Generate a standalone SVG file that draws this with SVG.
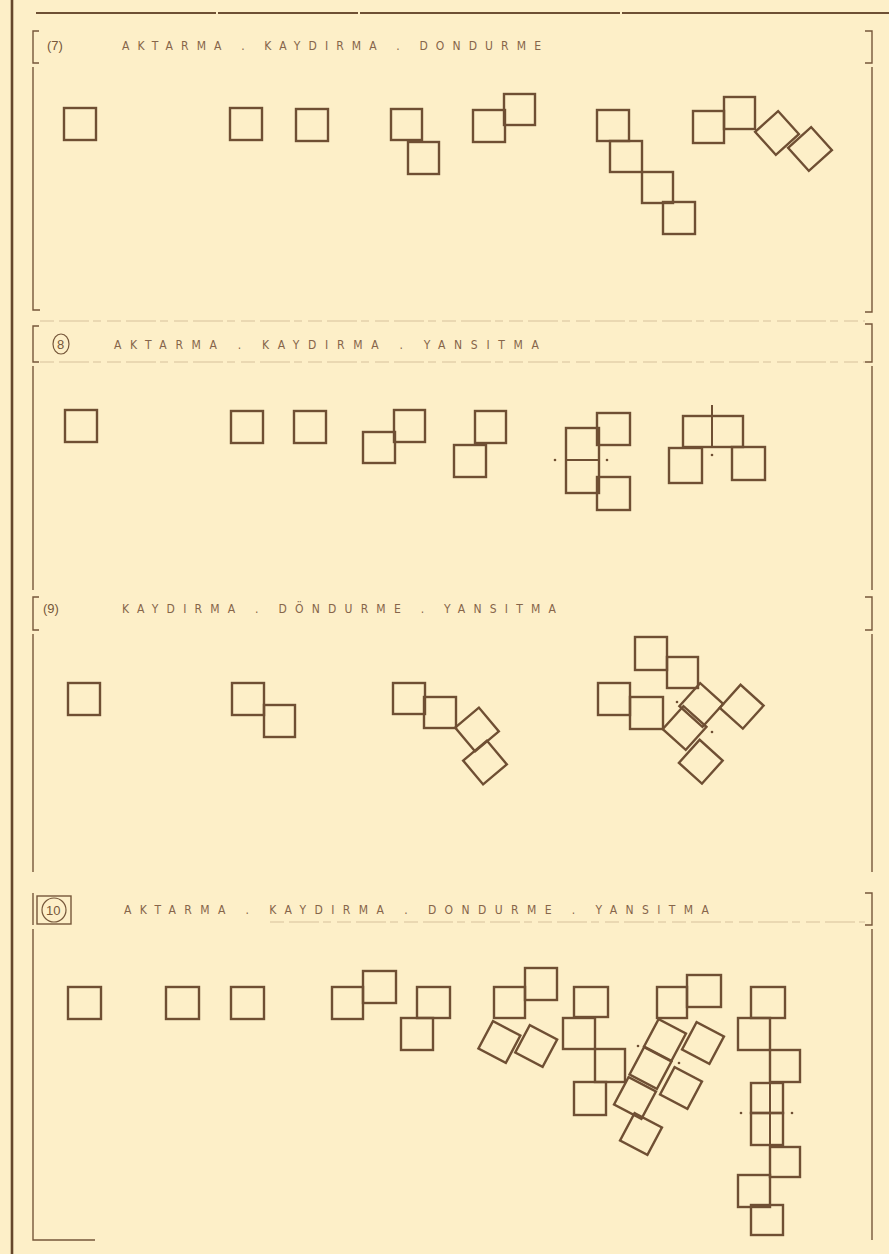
<svg xmlns="http://www.w3.org/2000/svg" width="889" height="1254" viewBox="0 0 889 1254">
<style>
.bg{fill:#fdefc8}
.sq{fill:none;stroke:#6f4f33;stroke-width:2.4;stroke-linejoin:miter}
.ax{fill:none;stroke:#6f4f33;stroke-width:2}
.dot{fill:#6f4f33}
.fr{fill:none;stroke:#76573a;stroke-width:1.4}
.frt{fill:none;stroke:#65462b;stroke-width:2.6}
.fd{fill:none;stroke:#a98a68;stroke-width:1;stroke-dasharray:14 5 30 4 8 6;opacity:0.45}
.hd{font-family:"DejaVu Sans Condensed","Liberation Sans Narrow","Liberation Sans",sans-serif;font-size:12px;fill:#86654a}
.num{font-family:"Liberation Sans",sans-serif;font-size:13px;fill:#76573a}
</style>
<rect class="bg" x="0" y="0" width="889" height="1254"/>

<g id="frame">
  <line class="frt" x1="12" y1="0" x2="12" y2="1254"/>
  <path d="M36 13 H889" stroke="#6e5034" stroke-width="2" fill="none" stroke-dasharray="180 2 140 2 260 2 300"/>
  <!-- panel 7 -->
  <path class="fr" d="M39 31 H33 V63 H39"/>
  <path class="fr" d="M865 31 H872 V63 H865"/>
  <path class="fr" d="M33 67 V310 H40"/>
  <path class="fr" d="M872 67 V312 H865"/>
  <!-- panel 8 -->
  <path class="fd" d="M40 321 H865"/>
  <path class="fr" d="M39 326 H33 V362 H39"/>
  <path class="fr" d="M865 324 H872 V362 H865"/>
  <path class="fd" d="M40 362 H865"/>
  <path class="fr" d="M33 366 V590"/>
  <path class="fr" d="M872 366 V590"/>
  <!-- panel 9 -->
  <path class="fr" d="M39 597 H33 V630 H39"/>
  <path class="fr" d="M865 597 H872 V630 H865"/>
  <path class="fr" d="M33 634 V872"/>
  <path class="fr" d="M872 634 V872"/>
  <!-- panel 10 -->
  <path class="fr" d="M33 893 V925"/>
  <path class="fr" d="M865 893 H872 V925 H865"/>
  <path class="fd" d="M270 922 H865"/>
  <path class="fr" d="M33 929 V1240 H95"/>
  <path class="fr" d="M872 929 V1240"/>
</g>

<g id="header7">
  <text class="num" x="47" y="50">(7)</text>
  <text class="hd" x="122" y="50" textLength="419" lengthAdjust="spacing">AKTARMA . KAYDIRMA . DONDURME</text>
</g>
<g id="header8">
  <ellipse cx="61" cy="344" rx="8" ry="10" fill="none" stroke="#76573a" stroke-width="1.2"/>
  <text class="num" x="57" y="349" font-size="12">8</text>
  <text class="hd" x="114" y="349" textLength="425" lengthAdjust="spacing">AKTARMA . KAYDIRMA . YANSITMA</text>
</g>
<g id="header9">
  <text class="num" x="43" y="613">(9)</text>
  <text class="hd" x="122" y="613" textLength="434" lengthAdjust="spacing">KAYDIRMA . DÖNDURME . YANSITMA</text>
</g>
<g id="header10">
  <rect x="37" y="896" width="34" height="28" fill="none" stroke="#76573a" stroke-width="1.4"/>
  <ellipse cx="54" cy="910" rx="12" ry="12" fill="none" stroke="#76573a" stroke-width="1.2"/>
  <text class="num" x="46" y="915" font-size="12">10</text>
  <text class="hd" x="124" y="914" textLength="585" lengthAdjust="spacing">AKTARMA . KAYDIRMA . DONDURME . YANSITMA</text>
</g>

<!-- panel 7 -->
<g id="p7-1"><rect class="sq" x="64" y="108" width="32" height="32"/></g>
<g id="p7-2"><rect class="sq" x="230" y="108" width="32" height="32"/></g>
<g id="p7-3"><rect class="sq" x="296" y="109" width="32" height="32"/></g>
<g id="p7-4"><rect class="sq" x="391" y="109" width="31" height="31"/><rect class="sq" x="408" y="142" width="31" height="32"/></g>
<g id="p7-5"><rect class="sq" x="473" y="110" width="32" height="32"/><rect class="sq" x="504" y="94" width="31" height="31"/></g>
<g id="p7-6"><rect class="sq" x="597" y="110" width="32" height="31"/><rect class="sq" x="610" y="141" width="32" height="31"/><rect class="sq" x="642" y="172" width="31" height="31"/><rect class="sq" x="663" y="202" width="32" height="32"/></g>
<g id="p7-7"><rect class="sq" x="693" y="111" width="31" height="32"/><rect class="sq" x="724" y="97" width="31" height="32"/>
  <rect class="sq" x="-15.5" y="-15.5" width="31" height="31" transform="translate(777 133) rotate(48)"/>
  <rect class="sq" x="-15.5" y="-15.5" width="31" height="31" transform="translate(810 149) rotate(48)"/></g>

<!-- panel 8 -->
<g id="p8-1"><rect class="sq" x="65" y="410" width="32" height="32"/></g>
<g id="p8-2"><rect class="sq" x="231" y="411" width="32" height="32"/></g>
<g id="p8-3"><rect class="sq" x="294" y="411" width="32" height="32"/></g>
<g id="p8-4"><rect class="sq" x="394" y="410" width="31" height="32"/><rect class="sq" x="363" y="432" width="32" height="31"/></g>
<g id="p8-5"><rect class="sq" x="475" y="411" width="31" height="32"/><rect class="sq" x="454" y="445" width="32" height="32"/></g>
<g id="p8-6"><rect class="sq" x="566" y="428" width="33" height="65"/><line class="ax" x1="566" y1="460" x2="599" y2="460"/>
  <circle class="dot" cx="555" cy="460" r="1.3"/><circle class="dot" cx="607" cy="460" r="1.3"/>
  <rect class="sq" x="597" y="413" width="33" height="32"/><rect class="sq" x="597" y="477" width="33" height="33"/></g>
<g id="p8-7"><rect class="sq" x="683" y="416" width="60" height="31"/><line class="ax" x1="712" y1="405" x2="712" y2="447"/>
  <circle class="dot" cx="712" cy="455" r="1.3"/>
  <rect class="sq" x="669" y="448" width="33" height="35"/><rect class="sq" x="732" y="447" width="33" height="33"/></g>

<!-- panel 9 -->
<g id="p9-1"><rect class="sq" x="68" y="683" width="32" height="32"/></g>
<g id="p9-2"><rect class="sq" x="232" y="683" width="32" height="32"/><rect class="sq" x="264" y="705" width="31" height="32"/></g>
<g id="p9-3"><rect class="sq" x="393" y="683" width="32" height="31"/><rect class="sq" x="424" y="697" width="32" height="31"/>
  <rect class="sq" x="-15.5" y="-15.5" width="31" height="31" transform="translate(477 729.5) rotate(50)"/>
  <rect class="sq" x="-15.5" y="-15.5" width="31" height="31" transform="translate(485 762.5) rotate(50)"/></g>
<g id="p9-4"><rect class="sq" x="598" y="683" width="32" height="32"/><rect class="sq" x="630" y="697" width="33" height="32"/>
  <rect class="sq" x="635" y="637" width="32" height="33"/><rect class="sq" x="667" y="657" width="31" height="31"/>
  <rect class="sq" x="-15.5" y="-15.5" width="31" height="31" transform="translate(701.3 705) rotate(42)"/>
  <rect class="sq" x="-15.5" y="-15.5" width="31" height="31" transform="translate(741.7 706.7) rotate(42)"/>
  <rect class="sq" x="-15.5" y="-15.5" width="31" height="31" transform="translate(684.6 728) rotate(42)"/>
  <rect class="sq" x="-15.5" y="-15.5" width="31" height="31" transform="translate(700.8 761.7) rotate(42)"/>
  <circle class="dot" cx="677" cy="702" r="1.3"/><circle class="dot" cx="712" cy="732" r="1.3"/></g>

<!-- panel 10 -->
<g id="p10-1"><rect class="sq" x="68" y="987" width="33" height="32"/></g>
<g id="p10-2"><rect class="sq" x="166" y="987" width="33" height="32"/></g>
<g id="p10-3"><rect class="sq" x="231" y="987" width="33" height="32"/></g>
<g id="p10-4"><rect class="sq" x="332" y="987" width="31" height="32"/><rect class="sq" x="363" y="971" width="33" height="32"/></g>
<g id="p10-5"><rect class="sq" x="417" y="987" width="33" height="31"/><rect class="sq" x="401" y="1018" width="32" height="32"/></g>
<g id="p10-6"><rect class="sq" x="494" y="987" width="31" height="31"/><rect class="sq" x="525" y="968" width="32" height="32"/>
  <rect class="sq" x="-15.5" y="-15.5" width="31" height="31" transform="translate(499.4 1042) rotate(28)"/>
  <rect class="sq" x="-15.5" y="-15.5" width="31" height="31" transform="translate(536.2 1046) rotate(28)"/></g>
<g id="p10-7"><rect class="sq" x="574" y="987" width="34" height="30"/><rect class="sq" x="563" y="1018" width="32" height="31"/>
  <rect class="sq" x="595" y="1049" width="30" height="33"/><rect class="sq" x="574" y="1082" width="32" height="33"/></g>
<g id="p10-8"><rect class="sq" x="657" y="987" width="30" height="31"/><rect class="sq" x="687" y="975" width="34" height="32"/>
  <rect class="sq" x="-15.5" y="-15.5" width="31" height="31" transform="translate(665 1040) rotate(28)"/>
  <rect class="sq" x="-15.5" y="-15.5" width="31" height="31" transform="translate(703 1043) rotate(28)"/>
  <rect class="sq" x="-15.5" y="-15.5" width="31" height="31" transform="translate(650.5 1068) rotate(28)"/>
  <rect class="sq" x="-15.5" y="-15.5" width="31" height="31" transform="translate(681 1088) rotate(28)"/>
  <rect class="sq" x="-15.5" y="-15.5" width="31" height="31" transform="translate(635 1098) rotate(28)"/>
  <rect class="sq" x="-15.5" y="-15.5" width="31" height="31" transform="translate(641 1134) rotate(28)"/>
  <circle class="dot" cx="638" cy="1046" r="1.3"/><circle class="dot" cx="679" cy="1063" r="1.3"/></g>
<g id="p10-9"><rect class="sq" x="751" y="987" width="34" height="31"/><rect class="sq" x="738" y="1018" width="32" height="32"/>
  <rect class="sq" x="770" y="1050" width="30" height="32"/><rect class="sq" x="751" y="1083" width="32" height="30"/>
  <rect class="sq" x="751" y="1113" width="32" height="32"/><rect class="sq" x="770" y="1147" width="30" height="30"/>
  <rect class="sq" x="738" y="1175" width="32" height="32"/><rect class="sq" x="751" y="1205" width="32" height="30"/>
  <line class="ax" x1="770" y1="1018" x2="770" y2="1205"/>
  <circle class="dot" cx="741" cy="1113" r="1.3"/><circle class="dot" cx="792" cy="1113" r="1.3"/></g>
</svg>
